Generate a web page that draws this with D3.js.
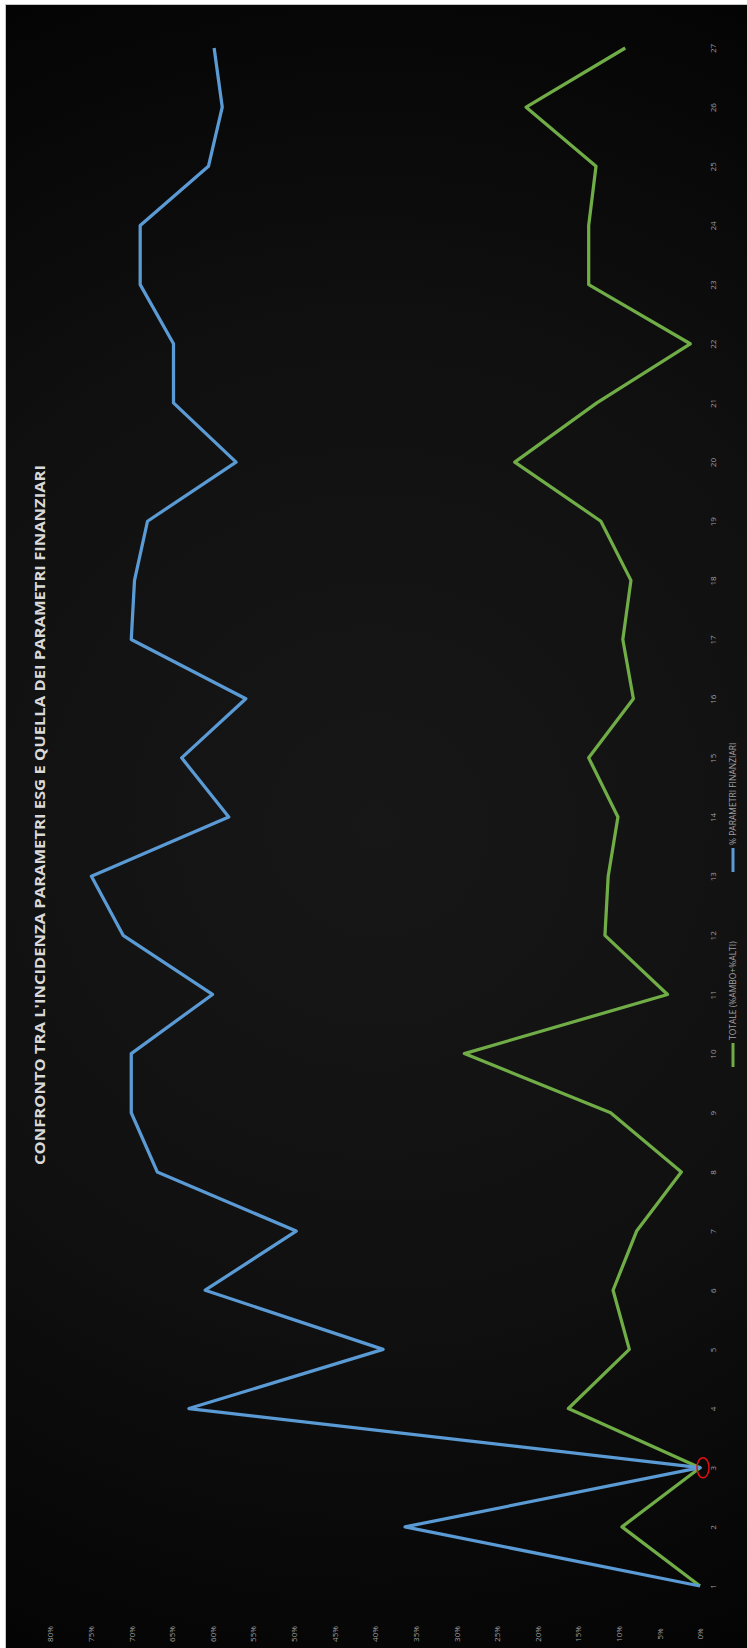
<!DOCTYPE html>
<html>
<head>
<meta charset="utf-8">
<script src="https://cdn.jsdelivr.net/npm/d3@7/dist/d3.min.js"></script>
<style>
  html, body { margin: 0; padding: 0; background: #fff; }
  svg { display: block; }
</style>
</head>
<body>
<svg id="chart"></svg>
<script>
// chart values (%)
var categories = [1, 2, 3, 4, 5, 6, 7, 8, 9, 10, 11, 12, 13, 14, 15, 16, 17, 18, 19, 20, 21, 22, 23, 24, 25, 26, 27]
var totale = [0, 9.6, 0, 16.2, 8.7, 10.7, 7.8, 2.3, 11.0, 29.0, 4.0, 11.7, 11.3, 10.1, 13.7, 8.2, 9.5, 8.5, 12.2, 22.8, 12.7, 1.2, 13.7, 13.7, 12.8, 21.4, 9.2]
var finanziari = [0, 36.3, 0, 62.9, 39.0, 60.9, 49.7, 66.8, 70.0, 70.0, 60.0, 71.0, 74.9, 58.0, 63.8, 55.9, 70.0, 69.6, 68.0, 57.1, 64.8, 64.8, 68.9, 68.9, 60.5, 58.8, 59.8]
var valueTicks = [0, 5, 10, 15, 20, 25, 30, 35, 40, 45, 50, 55, 60, 65, 70, 75, 80]
var seriesNames = ['TOTALE (%AMBO+%ALTI)', '% PARAMETRI FINANZIARI']
var seriesColors = ['#70ad47', '#5b9bd5']
var title = "CONFRONTO TRA L'INCIDENZA PARAMETRI ESG E QUELLA DEI PARAMETRI FINANZIARI"

var width = 747, height = 1648

var svg = d3.select('#chart').attr('width', width).attr('height', height)

// background gradient like the excel dark theme
var defs = svg.append('defs')
var grad = defs.append('radialGradient')
  .attr('id', 'bg')
  .attr('gradientUnits', 'userSpaceOnUse')
  .attr('cx', 376).attr('cy', 826).attr('r', 900)
grad.append('stop').attr('offset', 0).attr('stop-color', '#171717')
grad.append('stop').attr('offset', 0.55).attr('stop-color', '#101010')
grad.append('stop').attr('offset', 1).attr('stop-color', '#040404')

svg.append('rect')
  .attr('x', 5.5).attr('y', 4.5)
  .attr('width', 800).attr('height', 1700)
  .attr('fill', 'url(#bg)')
  .attr('stroke', '#c8c8c8')
  .attr('stroke-width', 1)

// the chart is turned a quarter: values go right to left, categories bottom to top
var x = d3.scaleLinear().domain([0, 80]).range([700, 50])
var y = d3.scalePoint().domain(categories).range([1586, 48])

var labelFont = '"Open Sans", "Liberation Sans", sans-serif'

// value axis (labels only)
var xAxis = svg.append('g')
  .attr('transform', 'translate(0,1634)')
  .call(d3.axisBottom(x).tickValues(valueTicks).tickFormat(function(d) { return d + '%' }).tickSize(0))
xAxis.select('.domain').remove()
xAxis.selectAll('text')
  .attr('x', 0).attr('y', 0).attr('dy', '0.35em')
  .attr('transform', 'rotate(-90)')
  .attr('text-anchor', 'middle')
  .attr('fill', '#a0a0a0')
  .style('font-family', labelFont)
  .style('font-size', '8px')

// category axis (labels only)
var yAxis = svg.append('g')
  .attr('transform', 'translate(713,0)')
  .call(d3.axisRight(y).tickSize(0))
yAxis.select('.domain').remove()
yAxis.selectAll('text')
  .attr('x', 0).attr('y', 0).attr('dy', '0.35em')
  .attr('transform', 'rotate(-90)')
  .attr('text-anchor', 'middle')
  .attr('fill', '#a0a0a0')
  .style('font-family', labelFont)
  .style('font-size', '8px')

// lines
var line = d3.line()
  .x(function(d) { return x(d) })
  .y(function(d, i) { return y(categories[i]) })

;[totale, finanziari].forEach(function(values, k) {
  svg.append('path')
    .datum(values)
    .attr('d', line)
    .attr('fill', 'none')
    .attr('stroke', seriesColors[k])
    .attr('stroke-width', 3.25)
    .attr('stroke-linejoin', 'round')
})

// red circle drawn on the reference around category 3
svg.append('ellipse')
  .attr('cx', x(0) + 3)
  .attr('cy', y(3))
  .attr('rx', 6).attr('ry', 10)
  .attr('fill', 'none')
  .attr('stroke', '#e01010')
  .attr('stroke-width', 1.5)

// title
svg.append('text')
  .attr('transform', 'translate(40,815) rotate(-90)')
  .attr('text-anchor', 'middle')
  .attr('dy', '0.35em')
  .attr('fill', '#d9d9d9')
  .attr('textLength', 700)
  .attr('lengthAdjust', 'spacingAndGlyphs')
  .style('font-family', labelFont)
  .style('font-weight', 'bold')
  .style('font-size', '15px')
  .text(title)

// legend
var legend = svg.append('g').attr('transform', 'translate(733,1067) rotate(-90)')
var offsets = [0, 195]
seriesNames.forEach(function(name, k) {
  legend.append('line')
    .attr('x1', offsets[k]).attr('x2', offsets[k] + 24)
    .attr('y1', 0).attr('y2', 0)
    .attr('stroke', seriesColors[k])
    .attr('stroke-width', 3)
  legend.append('text')
    .attr('x', offsets[k] + 27)
    .attr('dy', '0.35em')
    .attr('fill', '#a0a0a0')
    .style('font-family', labelFont)
    .style('font-size', '8.5px')
    .text(name)
})
</script>
</body>
</html>
